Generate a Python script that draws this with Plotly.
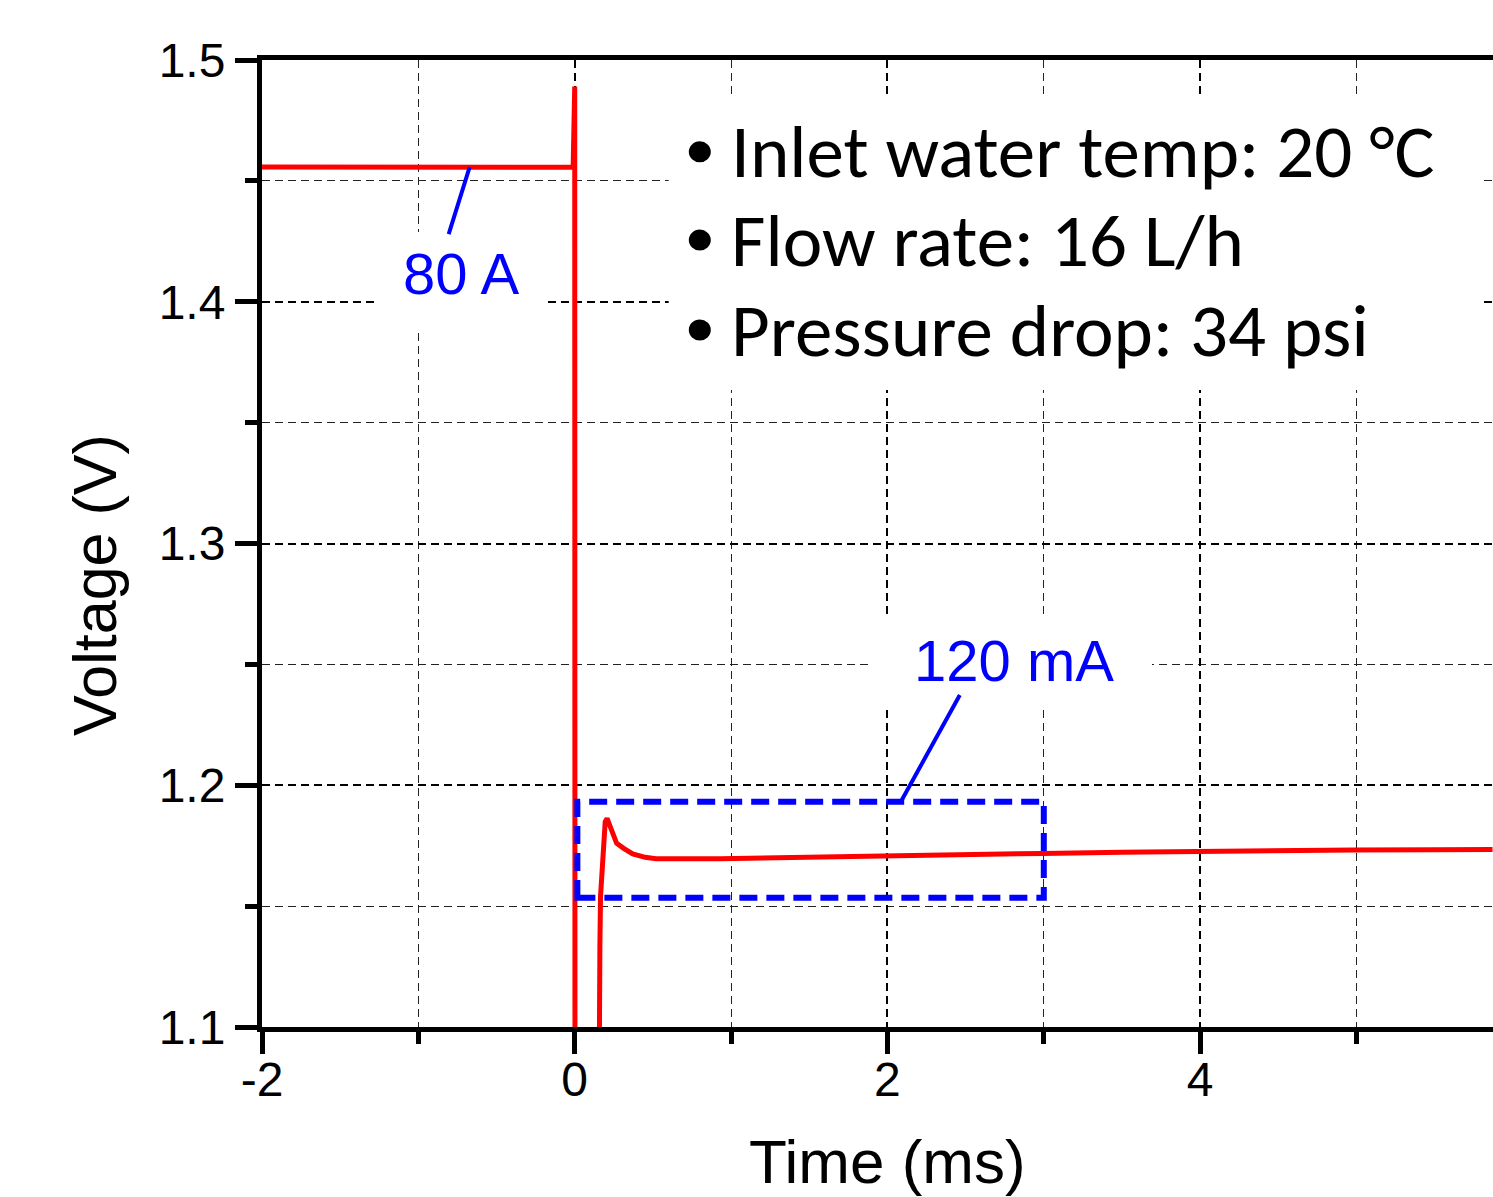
import plotly.graph_objects as go

# ---------------- data ----------------
# Time (ms) and Voltage (V) of the red trace
t_pre = [-2.0, -1.5, -1.0, -0.5, -0.01]
v_pre = [1.4557, 1.4557, 1.4556, 1.4556, 1.4556]

t_step = [0.0, 0.002, 0.15]
v_step = [1.489, 1.0, 1.0]

t_post = [0.153, 0.161, 0.165, 0.177, 0.189, 0.195, 0.207, 0.245, 0.268, 0.313,
          0.371, 0.451, 0.52, 0.93, 1.5, 1.98, 2.5, 2.995, 3.5, 3.996, 4.5,
          4.98, 5.5, 5.87]
v_post = [1.100, 1.1333, 1.1539, 1.1704, 1.1801, 1.1849, 1.1863, 1.1801, 1.1760, 1.1739,
          1.1716, 1.1702, 1.1696, 1.1696, 1.1703, 1.1710, 1.1714, 1.1718, 1.1723, 1.1727, 1.1730,
          1.1732, 1.1733, 1.1734]

time = t_pre + t_step + t_post
voltage = v_pre + v_step + v_post

x_ticks = [-2, 0, 2, 4]
y_ticks = [1.1, 1.2, 1.3, 1.4, 1.5]

info_lines = ["Inlet water temp: 20 °C", "Flow rate: 16 L/h", "Pressure drop: 34 psi"]
label_high = "80 A"
label_low = "120 mA"
x_title = "Time (ms)"
y_title = "Voltage (V)"

# ---------------- figure ----------------
RED = "#FF0000"
BLUE = "#0000FF"
ARIAL = "Liberation Sans, Arial, sans-serif"
CAL = "Carlito, Calibri, Lato, sans-serif"

fig = go.Figure()
fig.add_trace(go.Scatter(x=time, y=voltage, mode="lines",
                         line=dict(color=RED, width=5), showlegend=False,
                         hoverinfo="skip"))

grid_dash = "8px,5px"
fig.update_xaxes(
    range=[-2, 5.873], tickvals=x_ticks, ticktext=[str(v) for v in x_ticks],
    showline=True, linecolor="black", linewidth=5, mirror=True,
    ticks="outside", ticklen=22, tickwidth=5, tickcolor="black",
    showgrid=True, gridcolor="black", gridwidth=1.6, griddash=grid_dash,
    zeroline=False, ticklabelstandoff=-16,
    minor=dict(dtick=1, tick0=-1, ticks="outside", ticklen=12, tickwidth=5,
               tickcolor="black", showgrid=True, gridcolor="#222222",
               gridwidth=1.1, griddash=grid_dash),
    tickfont=dict(family=ARIAL, size=48, color="black"),
)
fig.update_yaxes(
    range=[1.1, 1.5], tickvals=y_ticks, ticktext=[f"{v:.1f}" for v in y_ticks],
    showline=True, linecolor="black", linewidth=5, mirror=False,
    ticks="outside", ticklen=22, tickwidth=5, tickcolor="black",
    showgrid=True, gridcolor="black", gridwidth=1.6, griddash=grid_dash,
    zeroline=False,
    minor=dict(dtick=0.05, ticks="outside", ticklen=12, tickwidth=5,
               tickcolor="black", showgrid=True, gridcolor="#222222",
               gridwidth=1.1, griddash=grid_dash),
    tickfont=dict(family=ARIAL, size=48, color="black"),
)

shapes = []
# white backgrounds covering the grid
for (x0, x1, y0, y1) in [(-1.28, -0.179, 1.3883, 1.4289),
                         (1.887, 3.692, 1.2324, 1.2704),
                         (0.601, 5.803, 1.3635, 1.4847)]:
    shapes.append(dict(type="rect", xref="x", yref="y", x0=x0, x1=x1, y0=y0, y1=y1,
                       fillcolor="white", line=dict(width=0), layer="between"))
# blue dashed box
shapes.append(dict(type="rect", xref="x", yref="y", x0=0.017, x1=3.0, y0=1.1535, y1=1.1932,
                   line=dict(color=BLUE, width=6, dash="18px,9px"), layer="above"))
# leader lines
shapes.append(dict(type="line", xref="x", yref="y", x0=-0.672, y0=1.4557, x1=-0.806, y1=1.4280,
                   line=dict(color=BLUE, width=4)))
shapes.append(dict(type="line", xref="x", yref="y", x0=2.463, y0=1.2373, x1=2.092, y1=1.1939,
                   line=dict(color=BLUE, width=4)))
# bullets
bullet_y = [1.4620, 1.4255, 1.3883]
for by in bullet_y:
    shapes.append(dict(type="circle", xref="x", yref="y", xsizemode="pixel", ysizemode="pixel",
                       xanchor=0.8, yanchor=by, x0=-11, x1=11, y0=-10.5, y1=10.5,
                       fillcolor="black", line=dict(width=0)))

annotations = [
    dict(x=-0.729, y=1.4115, xref="x", yref="y", text=label_high, showarrow=False,
         font=dict(family=ARIAL, size=58, color=BLUE), xanchor="center", yanchor="middle"),
    dict(x=2.809, y=1.2518, xref="x", yref="y", text=label_low, showarrow=False,
         font=dict(family=ARIAL, size=58, color=BLUE), xanchor="center", yanchor="middle"),
    # axis titles
    dict(x=(887 - 262) / 1231, y=-(1161 - 1027) / 967, xref="paper", yref="paper",
         text=x_title, showarrow=False, xanchor="center", yanchor="middle",
         font=dict(family=ARIAL, size=62, color="black")),
    dict(x=(95 - 262) / 1231, y=(1027 - 585) / 967, xref="paper", yref="paper",
         text=y_title, showarrow=False, xanchor="center", yanchor="middle", textangle=-90,
         font=dict(family=ARIAL, size=61, color="black")),
]
for line, by in zip(info_lines, bullet_y):
    annotations.append(dict(x=0.985, y=by, xref="x", yref="y", text=line, showarrow=False,
                            font=dict(family=CAL, size=75, color="black"),
                            xanchor="left", yanchor="middle"))

fig.update_layout(
    width=1493, height=1197,
    margin=dict(l=262, r=0, t=60, b=170),
    paper_bgcolor="white", plot_bgcolor="white",
    shapes=shapes, annotations=annotations, showlegend=False,
)

fig.write_html("out.html")
